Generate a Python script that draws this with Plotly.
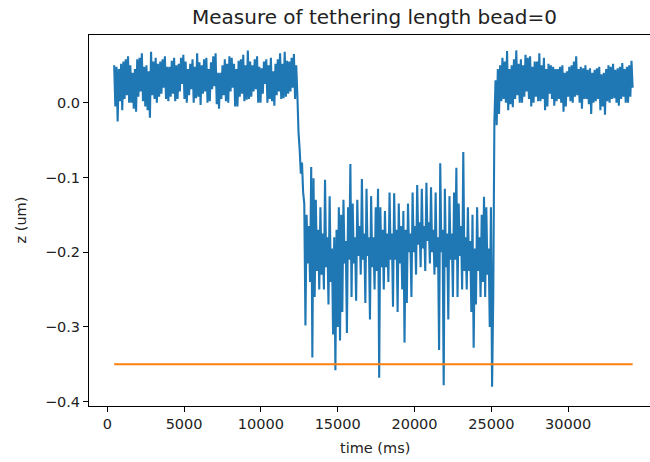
import numpy as np
import plotly.graph_objects as go

# ---- data ----
t_start_ms = 450
t_step_ms = 75
# bead height z, in units of 1e-3 um (one value per sample)
z_baseline_before = [
    50, -5, 48, -25, 45, 2, 52, -10, 55, 5, 58, 10, 62, 0, 50, 0,
    40, -8, 45, -12, 58, 8, 60, 15, 66, 2, 48, -5, 50, -10, 42, -20,
    68, 10, 55, 5, 60, 0, 52, 8, 55, 12, 58, 20, 62, 5, 48, 2,
    48, 8, 56, 12, 60, 2, 50, 5, 52, 15, 60, 25, 64, 5, 55, 0,
    45, 10, 52, 18, 58, 0, 48, 6, 66, 8, 54, -3, 50, 12, 58, 15,
    60, 0, 45, 2, 54, 18, 62, 22, 66, -2, 40, -8, 40, 5, 50, 10,
    58, 2, 52, 0, 62, 15, 60, 20, 52, -5, 45, -5, 56, 8, 58, 12,
    64, 2, 50, 4, 70, 5, 55, 8, 50, 15, 58, 18, 62, 0, 48, 0,
    46, 12, 55, 25, 58, 0, 50, 5, 60, 2, 42, -4, 52, 10, 58, 15,
    66, 5, 52, 6, 68, 8, 56, 12, 55, 15, 60, 20, 65, 5, 50, 10,
]
z_drop = [-40, -63, -95, -80, -120, -135]
z_low_state = [
    -298, -150, -215, -165, -240, -86, -341, -101, -260, -130,
    -225, -170, -250, -140, -230, -175, -250, -103, -220, -180,
    -270, -125, -240, -195, -310, -180, -358, -170, -300, -140,
    -318, -150, -280, -130, -215, -185, -308, -140, -210, -82,
    -260, -135, -215, -180, -265, -130, -205, -165, -230, -102,
    -210, -175, -268, -115, -205, -180, -290, -125, -220, -180,
    -250, -140, -225, -115, -368, -140, -220, -170, -250, -145,
    -220, -175, -240, -120, -210, -175, -273, -121, -210, -170,
    -280, -135, -215, -165, -250, -145, -321, -170, -268, -135,
    -200, -175, -260, -120, -200, -165, -230, -110, -190, -160,
    -220, -115, -195, -165, -225, -107, -185, -160, -215, -113,
    -200, -170, -230, -120, -220, -180, -331, -81, -200, -170,
    -378, -115, -220, -175, -290, -125, -210, -175, -260, -120,
    -210, -87, -260, -135, -205, -165, -250, -66, -225, -180,
    -250, -140, -225, -185, -280, -150, -328, -195, -270, -140,
    -225, -180, -260, -150, -240, -126, -260, -140, -230, -195,
    -300, -140, -380, -260,
]
z_recovery = [-25, 30, -30, 45]
z_baseline_after = [
    -15, 50, 2, 60, 5, 55, 0, 69, -10, 45, -2, 50, -6, 58, 5, 70,
    10, 52, 0, 58, 0, 50, 8, 64, 15, 60, 5, 62, -5, 48, 0, 55,
    8, 55, 2, 66, 2, 50, 5, 60, -10, 45, -5, 52, 12, 50, 5, 48,
    -4, 45, 2, 45, 5, 48, 0, 50, -12, 40, -5, 42, 8, 48, 2, 50,
    0, 55, 8, 62, 10, 45, 0, 48, -8, 46, 5, 50, 5, 44, -2, 46,
    -15, 40, 0, 44, 2, 46, 5, 48, -10, 38, -5, 40, -16, 45, 2, 50,
    0, 48, 5, 52, 6, 44, 0, 46, -4, 48, 5, 53, 8, 45, 0, 48,
    0, 50, 8, 56, 20,
]
tether_length_um = -0.35

x_ticks = [0, 5000, 10000, 15000, 20000, 25000, 30000]
x_tick_labels = ["0", "5000", "10000", "15000", "20000", "25000", "30000"]
y_ticks = [-0.4, -0.3, -0.2, -0.1, 0.0]
y_tick_labels = ["\u22120.4", "\u22120.3", "\u22120.2", "\u22120.1", "0.0"]

z_um = np.array(z_baseline_before + z_drop + z_low_state + z_recovery
                + z_baseline_after) / 1000.0
time_ms = t_start_ms + t_step_ms * np.arange(len(z_um))

FONT = "DejaVu Sans"
TXT = "#222222"

fig = go.Figure()
fig.add_trace(go.Scatter(x=time_ms, y=z_um, mode="lines",
                         line=dict(color="#1f77b4", width=2.1, simplify=False)))
fig.add_trace(go.Scatter(x=[time_ms[0], time_ms[-1]],
                         y=[tether_length_um, tether_length_um], mode="lines",
                         line=dict(color="#ff7f0e", width=2.1)))

axis_common = dict(showgrid=False, zeroline=False, showline=True,
                   linecolor="black", linewidth=1, ticks="outside",
                   ticklen=5, tickwidth=1, tickcolor="black",
                   tickfont=dict(family=FONT, size=14.5, color=TXT))

fig.update_layout(
    width=650, height=462,
    margin=dict(l=89, r=0, t=35, b=56, pad=0),
    paper_bgcolor="white", plot_bgcolor="white",
    showlegend=False,
    xaxis=dict(range=[-1190, 35330], tickvals=x_ticks, ticktext=x_tick_labels,
               mirror=True, **axis_common),
    yaxis=dict(range=[-0.4058, 0.0906], tickvals=y_ticks, ticktext=y_tick_labels,
               **axis_common),
    title=dict(text="Measure of tethering length bead=0",
               font=dict(family=FONT, size=20, color=TXT),
               x=374.5 / 650, xanchor="center", xref="container",
               y=1 - 16.5 / 462, yanchor="middle", yref="container"),
    annotations=[
        dict(text="time (ms)", xref="paper", yref="paper",
             x=(374.5 - 89) / 561, y=(406 - 447.7) / 371,
             xanchor="center", yanchor="middle", showarrow=False,
             font=dict(family=FONT, size=14.5, color=TXT)),
        dict(text="z (um)", xref="paper", yref="paper",
             x=(20 - 89) / 561, y=0.5, textangle=-90,
             xanchor="center", yanchor="middle", showarrow=False,
             font=dict(family=FONT, size=14.5, color=TXT)),
    ],
)

fig.write_html("out.html")
